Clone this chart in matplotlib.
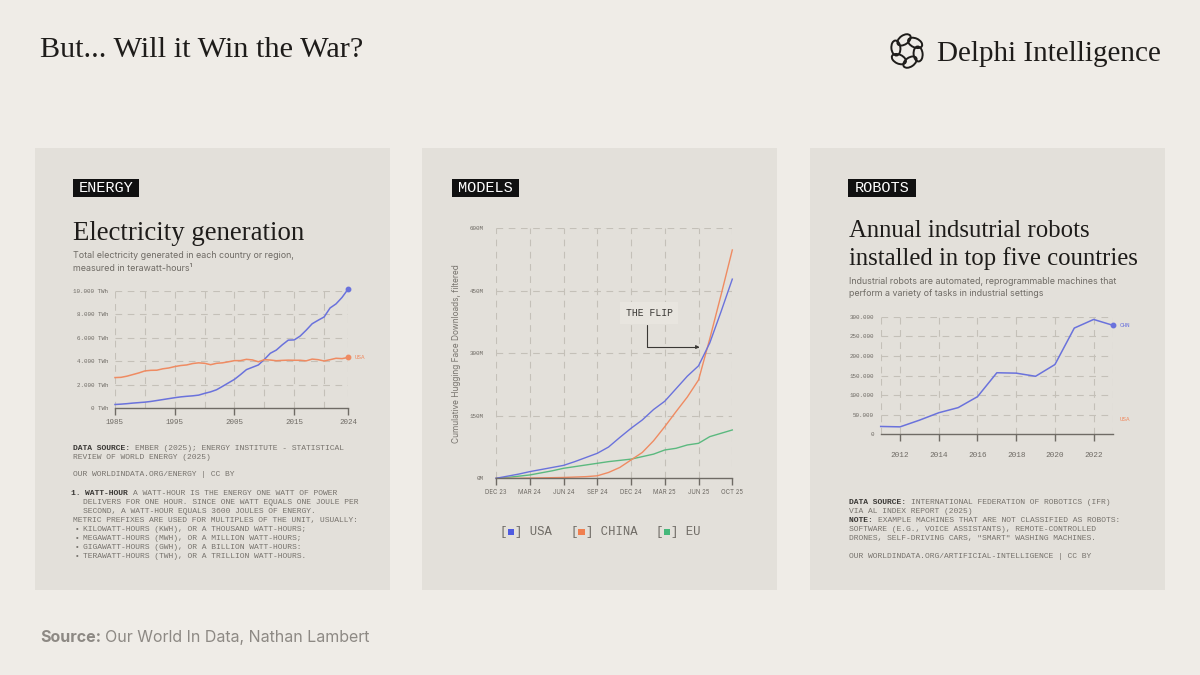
import numpy as np
import matplotlib.pyplot as plt
from matplotlib.patches import Rectangle, Ellipse

W, H = 1200, 675
BG = '#EFECE7'
PANEL = '#E3E0DA'
INK = '#1E1C1A'
GRAY = '#6F6B65'
NOTE = '#77736D'
GRID = '#C4C0B8'
BLUE = '#6A72DC'
ORANGE = '#EF8B62'
GREEN = '#5BB97F'

SERIF = 'Liberation Serif'
SANS = 'Inter'
MONO = 'Liberation Mono'

# ---- energy panel data (TWh) ----
energy_years = list(range(1985, 2025))
energy_chn = [300, 330, 370, 420, 460, 500, 560, 640, 720, 800,
              880, 950, 1000, 1040, 1100, 1250, 1380, 1560, 1850, 2150,
              2450, 2850, 3280, 3480, 3680, 4150, 4680, 4950, 5400, 5800,
              5820, 6150, 6650, 7200, 7500, 7780, 8550, 8900, 9450, 10150]
energy_usa = [2600, 2620, 2720, 2860, 3000, 3170, 3220, 3230, 3350, 3420,
              3540, 3630, 3680, 3800, 3860, 3820, 3700, 3820, 3860, 3950,
              4050, 4050, 4160, 4110, 3950, 4130, 4100, 4040, 4070, 4090,
              4080, 4080, 4030, 4180, 4130, 4020, 4130, 4250, 4220, 4320]
energy_yticks = [0, 2000, 4000, 6000, 8000, 10000]
energy_ylabels = ['0 TWh', '2.000 TWh', '4.000 TWh', '6.000 TWh', '8.000 TWh', '10.000 TWh']
energy_xticks = [1985, 1995, 2005, 2015, 2024]
energy_vgrid = [1985, 1990, 1995, 2000, 2005, 2010, 2015, 2020, 2024]

# ---- models panel data (millions of downloads, monthly from Dec 23) ----
model_months = list(range(22))
model_usa = [0, 5, 10, 16, 21, 26, 31, 40, 50, 60, 75, 98,
             120, 140, 165, 185, 215, 245, 270, 325, 400, 478]
model_china = [0, 0, 0, 0.5, 1, 1.5, 2, 3, 4, 6, 14, 26,
               44, 62, 90, 124, 160, 195, 236, 335, 440, 548]
model_eu = [0, 2, 5, 8, 13, 18, 24, 28, 32, 36, 40, 43,
            46, 52, 58, 68, 72, 80, 84, 100, 108, 116]
model_xticks = [0, 3, 6, 9, 12, 15, 18, 21]
model_xlabels = ['DEC 23', 'MAR 24', 'JUN 24', 'SEP 24', 'DEC 24', 'MAR 25', 'JUN 25', 'OCT 25']
model_yticks = [0, 150, 300, 450, 600]
model_ylabels = ['0M', '150M', '300M', '450M', '600M']
legend_names = ['USA', 'CHINA', 'EU']
legend_colors = ['#4F5BE0', '#F07F4F', '#45B87A']

# ---- robots panel data (annual installations) ----
robot_years = list(range(2011, 2024))
robot_chn = [20000, 19000, 36000, 55000, 68000, 96000, 157000,
             156000, 148000, 178000, 271000, 293000, 278000]
robot_usa_last = 37000
robot_yticks = [0, 50000, 100000, 150000, 200000, 250000, 300000]
robot_ylabels = ['0', '50.000', '100.000', '150.000', '200.000', '250.000', '300.000']
robot_xticks = [2012, 2014, 2016, 2018, 2020, 2022]
robot_vgrid = [2011, 2012, 2014, 2016, 2018, 2020, 2022, 2023]


def rect(x0, x1, ytop, ybot):
    return [x0 / W, 1 - ybot / H, (x1 - x0) / W, (ybot - ytop) / H]


def style(ax, xlim, ylim, yticks, ylabels, xticks, xlabels, vgrid, ypad, xfont, yfont, xfam):
    ax.set_facecolor('none')
    ax.set_xlim(*xlim)
    ax.set_ylim(*ylim)
    for s in ['left', 'top', 'right']:
        ax.spines[s].set_visible(False)
    ax.spines['bottom'].set_color(GRAY)
    ax.spines['bottom'].set_linewidth(1.0)
    ax.set_yticks(yticks)
    ax.set_yticklabels(ylabels, family=MONO, fontsize=yfont, color=GRAY)
    ax.set_xticks(xticks)
    ax.set_xticklabels(xlabels, family=xfam, fontsize=xfont, color=GRAY)
    ax.tick_params(axis='y', length=0, pad=ypad)
    ax.tick_params(axis='x', length=5, width=1, color=GRAY, pad=3)
    for v in yticks[1:]:
        ax.axhline(v, color=GRID, lw=0.8, dashes=(6, 5), zorder=0)
    for v in vgrid:
        ax.axvline(v, color=GRID, lw=0.8, dashes=(6, 5), zorder=0)


fig = plt.figure(figsize=(12, 6.75), dpi=100)
fig.patch.set_facecolor(BG)

bg = fig.add_axes([0, 0, 1, 1], zorder=0)
bg.set_xlim(0, W)
bg.set_ylim(H, 0)
bg.axis('off')

for x0 in [35, 422, 810]:
    bg.add_patch(Rectangle((x0, 148), 355, 442, facecolor=PANEL, edgecolor='none'))

# header
bg.text(40, 57, 'But... Will it Win the War?', family=SERIF, fontsize=21.8, color=INK, va='baseline')
bg.text(937, 61, 'Delphi Intelligence', family=SERIF, fontsize=21, color=INK, va='baseline')
for k in range(6):
    th = np.deg2rad(k * 60 + 15)
    bg.add_patch(Ellipse((907 + 11.5 * np.cos(th), 51 + 11.5 * np.sin(th)), 15, 9,
                         angle=k * 60 + 15 + 70, facecolor='none', edgecolor=INK, lw=1.4))

# footer
t = bg.text(40, 642, 'Source:', family=SANS, fontsize=11.5, weight='bold', color='#8D8984', va='baseline')
fig.canvas.draw()
bb = t.get_window_extent()
bg.text(40 + bb.width + 4, 642, 'Our World In Data, Nathan Lambert', family=SANS, fontsize=11.5,
        color='#8D8984', va='baseline')

# tags
for x0, x1, label in [(73, 139, 'ENERGY'), (452, 519, 'MODELS'), (848, 916, 'ROBOTS')]:
    bg.add_patch(Rectangle((x0, 179), x1 - x0, 18, facecolor='#111111', edgecolor='none'))
    bg.text((x0 + x1) / 2, 188.5, label, family=MONO, fontsize=11, color='white',
            ha='center', va='center')

# titles
bg.text(73, 240, 'Electricity generation', family=SERIF, fontsize=19.3, color=INK, va='baseline')
bg.text(849, 237, 'Annual indsutrial robots', family=SERIF, fontsize=17.8, color=INK, va='baseline')
bg.text(849, 265, 'installed in top five countries', family=SERIF, fontsize=17.8, color=INK, va='baseline')
bg.text(73, 256, 'Total electricity generated in each country or region,', family=SANS, fontsize=6.4,
        color=GRAY, va='center')
bg.text(73, 268.5, 'measured in terawatt-hours\u00b9', family=SANS, fontsize=6.4, color=GRAY, va='center')
bg.text(849, 281, 'Industrial robots are automated, reprogrammable machines that', family=SANS,
        fontsize=6.4, color=GRAY, va='center')
bg.text(849, 294, 'perform a variety of tasks in industrial settings', family=SANS, fontsize=6.4,
        color=GRAY, va='center')

# monospace notes
MFS = 5.75
CW = 0.6 * MFS * 100 / 72


def mono_line(x, y, parts):
    for txt, bold in parts:
        bg.text(x, y, txt, family=MONO, fontsize=MFS, color='#3A3835' if bold else NOTE,
                weight='bold' if bold else 'normal', va='center')
        x += len(txt) * CW


mono_line(73, 448.5, [('DATA SOURCE: ', True), ('EMBER (2025); ENERGY INSTITUTE - STATISTICAL', False)])
mono_line(73, 457.5, [('REVIEW OF WORLD ENERGY (2025)', False)])
mono_line(73, 475, [('OUR WORLDINDATA.ORG/ENERGY | CC BY', False)])
mono_line(71, 493.5, [('1. ', True), ('WATT-HOUR ', True), ('A WATT-HOUR IS THE ENERGY ONE WATT OF POWER', False)])
mono_line(83, 502.5, [('DELIVERS FOR ONE HOUR. SINCE ONE WATT EQUALS ONE JOULE PER', False)])
mono_line(83, 511.5, [('SECOND, A WATT-HOUR EQUALS 3600 JOULES OF ENERGY.', False)])
mono_line(73, 520.5, [('METRIC PREFIXES ARE USED FOR MULTIPLES OF THE UNIT, USUALLY:', False)])
bullets = ['KILOWATT-HOURS (KWH), OR A THOUSAND WATT-HOURS;',
           'MEGAWATT-HOURS (MWH), OR A MILLION WATT-HOURS;',
           'GIGAWATT-HOURS (GWH), OR A BILLION WATT-HOURS:',
           'TERAWATT-HOURS (TWH), OR A TRILLION WATT-HOURS.']
for i, b in enumerate(bullets):
    bg.text(75, 529.5 + 9 * i, '\u2022', family=MONO, fontsize=MFS, color=NOTE, va='center')
    mono_line(83, 529.5 + 9 * i, [(b, False)])

mono_line(849, 502.5, [('DATA SOURCE: ', True), ('INTERNATIONAL FEDERATION OF ROBOTICS (IFR)', False)])
mono_line(849, 511.5, [('VIA AL INDEX REPORT (2025)', False)])
mono_line(849, 520.5, [('NOTE: ', True), ('EXAMPLE MACHINES THAT ARE NOT CLASSIFIED AS ROBOTS:', False)])
mono_line(849, 529.5, [('SOFTWARE (E.G., VOICE ASSISTANTS), REMOTE-CONTROLLED', False)])
mono_line(849, 538.5, [('DRONES, SELF-DRIVING CARS, "SMART" WASHING MACHINES.', False)])
mono_line(849, 556.5, [('OUR WORLDINDATA.ORG/ARTIFICIAL-INTELLIGENCE | CC BY', False)])

# ---- energy chart ----
ax1 = fig.add_axes(rect(115, 348, 291, 408))
style(ax1, (1985, 2024), (0, 10000), energy_yticks, energy_ylabels, energy_xticks,
      [str(v) for v in energy_xticks], energy_vgrid, 5, 5.4, 4.2, MONO)
ax1.plot(energy_years, energy_chn, color=BLUE, lw=1.1, clip_on=False)
ax1.plot(energy_years, energy_usa, color=ORANGE, lw=1.1, clip_on=False)
ax1.plot(energy_years[-1], energy_chn[-1], 'o', ms=3.2, color=BLUE, clip_on=False)
ax1.plot(energy_years[-1], energy_usa[-1], 'o', ms=3.2, color=ORANGE, clip_on=False)
ax1.annotate('CHN', (energy_years[-1], energy_chn[-1]), xytext=(5, 0), textcoords='offset points',
             family=MONO, fontsize=4.2, color=BLUE, va='center')
ax1.annotate('USA', (energy_years[-1], energy_usa[-1]), xytext=(5, 0), textcoords='offset points',
             family=MONO, fontsize=4.2, color=ORANGE, va='center')

# ---- models chart ----
ax2 = fig.add_axes(rect(496, 732.3, 228.3, 478.3))
style(ax2, (0, 21), (0, 600), model_yticks, model_ylabels, model_xticks, model_xlabels,
      model_xticks, 9, 4.4, 4.2, SANS)
ax2.plot(model_months, model_eu, color=GREEN, lw=1.0, clip_on=False)
ax2.plot(model_months, model_china, color=ORANGE, lw=1.0, clip_on=False)
ax2.plot(model_months, model_usa, color=BLUE, lw=1.0, clip_on=False)
ax2.set_ylabel('Cumulative Hugging Face Downloads, filtered', family=SANS, fontsize=6,
               color=NOTE, labelpad=6)
ax2.text(13.6, 397, 'THE FLIP', family=MONO, fontsize=7, color='#3A3835', ha='center', va='center',
         bbox=dict(boxstyle='square,pad=0.6', facecolor='#E8E5DF', edgecolor='none'))
ax2.annotate('', xy=(18.1, 315), xytext=(13.4, 368),
             arrowprops=dict(arrowstyle='-|>', color='#3A3835', lw=0.8, mutation_scale=5,
                             connectionstyle='angle,angleA=90,angleB=0,rad=0',
                             shrinkA=0, shrinkB=0))

# legend
lx = 500
for name, col in zip(legend_names, legend_colors):
    bg.text(lx, 532, '[', family=MONO, fontsize=8.8, color=GRAY, va='center')
    bg.add_patch(Rectangle((lx + 7.5, 528.5), 6.5, 6.5, facecolor=col, edgecolor='none'))
    bg.text(lx + 15, 532, '] ' + name, family=MONO, fontsize=8.8, color=GRAY, va='center')
    lx += 15 + (len(name) + 2) * 0.6 * 8.8 * 100 / 72 + 19

# ---- robots chart ----
ax3 = fig.add_axes(rect(880.7, 1113, 316.7, 434.3))
style(ax3, (2011, 2023), (0, 300000), robot_yticks, robot_ylabels, robot_xticks,
      [str(v) for v in robot_xticks], robot_vgrid, 5, 5.6, 4.2, MONO)
ax3.tick_params(axis='x', pad=8)
ax3.plot(robot_years, robot_chn, color=BLUE, lw=1.1, clip_on=False)
ax3.plot(robot_years[-1], robot_chn[-1], 'o', ms=3.2, color=BLUE, clip_on=False)
ax3.annotate('CHN', (robot_years[-1], robot_chn[-1]), xytext=(5, 0), textcoords='offset points',
             family=MONO, fontsize=4.2, color=BLUE, va='center')
ax3.annotate('USA', (robot_years[-1], robot_usa_last), xytext=(5, 0), textcoords='offset points',
             family=MONO, fontsize=4.2, color=ORANGE, va='center')

fig.savefig('out.png', dpi=100, facecolor=BG)
